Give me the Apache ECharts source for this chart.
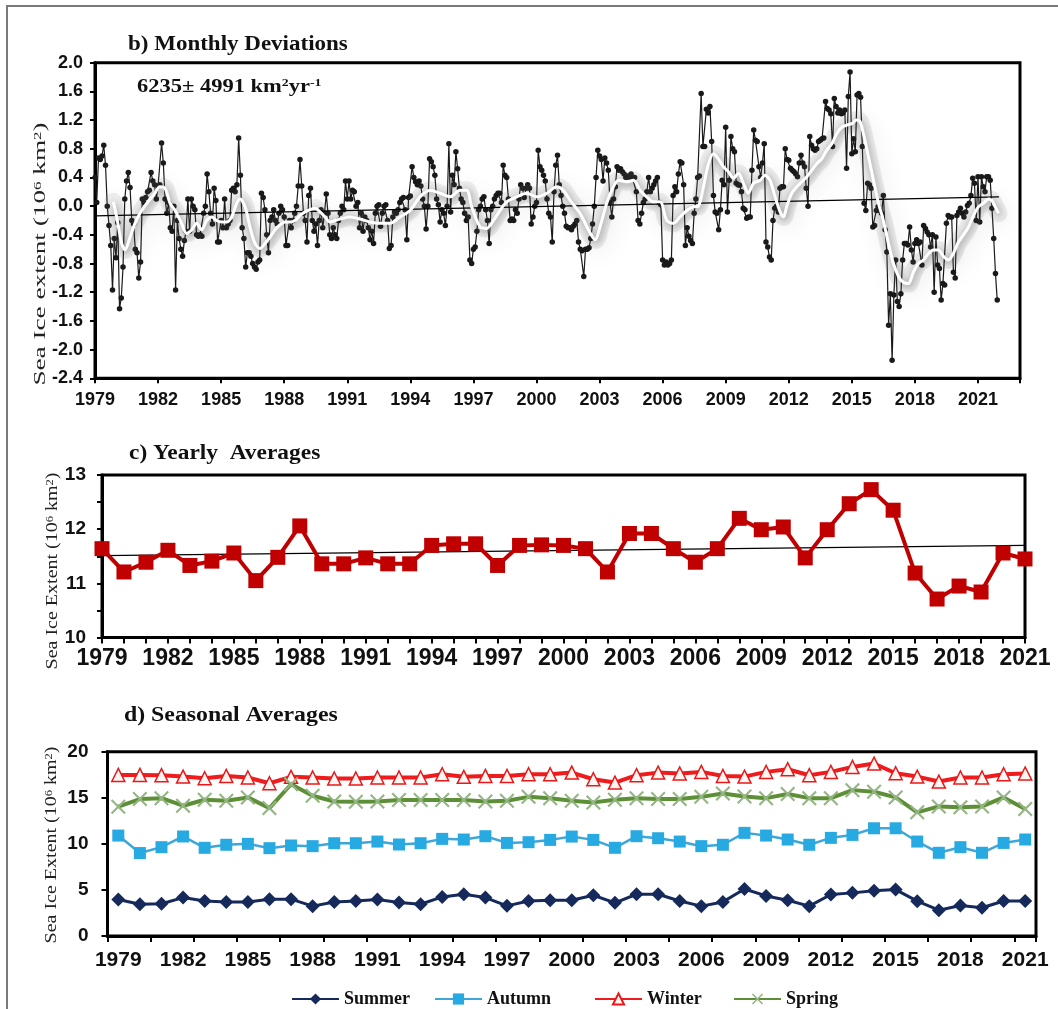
<!DOCTYPE html>
<html><head><meta charset="utf-8">
<script src="https://cdn.jsdelivr.net/npm/echarts@6/dist/echarts.min.js"></script>
<style>html,body{margin:0;padding:0;background:#fff}#c{width:1058px;height:1009px}</style>
</head><body><div id="c"></div>
<script>
// ---------- DATA ----------
// b) Monthly deviations (10^6 km^2), Jan 1979 .. Dec 2021
var monthlyStartYear = 1979;
var monthlyDeviation = [
 0.4,0.05,0.67,0.65,0.7,0.85,0.57,0.0,-0.27,-0.55,-1.17,-0.45,
 -0.72,-0.23,-1.43,-1.28,-0.85,0.1,0.35,0.47,0.26,-0.2,-0.25,-0.6,
 -0.65,-1.0,-0.78,0.1,0.05,0.12,0.2,0.22,0.47,0.35,0.3,0.1,
 0.28,0.3,0.88,0.6,0.1,-0.1,0.05,-0.3,-0.35,0.0,-1.17,-0.2,
 -0.45,-0.6,-0.7,-0.48,-0.35,0.1,-0.35,0.1,0.0,-0.05,-0.4,-0.42,
 -0.4,-0.42,-0.1,0.0,0.45,0.2,-0.1,-0.25,0.25,0.08,-0.5,-0.5,
 -0.2,-0.3,0.1,-0.3,-0.25,-0.2,0.22,0.25,0.2,0.3,0.95,0.43,
 -0.3,-0.45,-0.85,-0.65,-0.65,-0.7,-0.8,-0.85,-0.88,-0.78,-0.75,0.18,
 0.12,-0.05,-0.4,-0.65,-0.2,-0.15,-0.05,-0.2,-0.25,-0.1,0.0,-0.05,
 -0.15,-0.55,-0.55,-0.2,-0.3,-0.2,-0.1,0.0,0.28,0.65,0.28,-0.1,
 -0.2,-0.5,0.15,0.25,-0.2,-0.35,-0.25,-0.55,-0.2,-0.05,-0.3,-0.1,
 0.17,-0.1,-0.4,-0.45,-0.3,-0.4,-0.45,-0.2,-0.1,0.0,-0.05,0.35,
 0.1,0.35,0.1,0.22,0.2,0.0,0.05,-0.3,-0.1,-0.35,-0.15,-0.2,
 -0.3,-0.47,-0.35,-0.52,-0.1,0.0,0.02,-0.28,-0.1,0.0,0.02,-0.2,
 -0.59,-0.55,-0.15,-0.08,-0.1,-0.05,0.05,0.1,0.12,-0.05,-0.47,0.12,
 0.14,0.55,0.4,0.34,0.3,0.35,0.28,0.1,0.0,-0.32,0.0,0.66,
 0.62,0.55,0.43,0.1,0.02,-0.22,-0.05,-0.1,-0.27,0.0,0.87,-0.08,
 0.43,0.3,0.76,0.52,0.25,0.1,0.05,-0.1,-0.2,-0.15,-0.75,-0.8,
 -0.6,-0.57,-0.35,-0.05,0.0,0.1,0.13,-0.05,-0.2,-0.52,-0.05,0.0,
 0.1,0.15,0.18,0.18,0.05,0.57,0.43,0.4,0.1,-0.2,-0.18,-0.2,
 -0.05,-0.1,0.1,0.3,0.25,0.12,0.25,0.3,0.25,-0.25,-0.15,0.0,
 0.05,0.78,0.55,0.5,0.43,0.35,0.1,-0.1,-0.15,-0.5,0.2,0.57,
 0.71,0.3,0.15,0.0,-0.1,-0.28,-0.3,-0.3,-0.33,-0.28,-0.25,-0.2,
 -0.5,-0.6,-0.62,-0.98,-0.6,-0.6,-0.58,-0.45,-0.25,0.0,0.4,0.78,
 0.7,0.65,0.35,0.67,0.6,0.5,0.05,-0.15,0.1,0.27,0.55,0.5,
 0.52,0.48,0.45,0.4,0.42,0.4,0.45,0.38,0.4,0.2,-0.2,-0.25,
 -0.1,0.05,0.1,0.2,0.4,0.2,0.25,0.3,0.35,0.4,0.05,0.02,
 -0.75,-0.82,-0.78,-0.82,-0.8,-0.75,0.15,0.27,0.2,0.45,0.62,0.6,
 0.3,-0.55,-0.3,-0.42,-0.48,-0.52,-0.1,0.1,0.4,0.42,1.57,0.83,
 0.83,1.35,1.3,1.39,0.9,0.15,-0.08,-0.1,-0.33,-0.05,0.36,0.3,
 1.1,-0.08,0.36,0.97,0.8,0.76,0.32,0.3,0.29,0.2,-0.03,-0.05,
 -0.17,-0.15,-0.15,0.5,1.06,0.92,0.9,0.55,0.4,0.6,0.87,-0.5,
 -0.57,-0.71,-0.75,-0.2,-0.03,0.0,-0.08,0.25,0.27,0.27,0.8,0.65,
 0.64,0.53,0.5,0.48,0.45,0.41,0.6,0.71,0.6,0.55,0.25,0.0,
 0.97,0.85,0.8,0.78,0.8,0.9,0.92,0.94,0.95,1.46,1.36,1.34,
 1.29,0.83,1.5,1.39,1.3,1.34,1.29,1.3,1.34,0.53,1.53,1.87,
 0.73,0.94,0.76,1.55,1.57,1.52,0.83,0.04,-0.06,0.32,0.3,0.25,
 -0.29,-0.27,-0.06,-0.01,-0.06,-0.1,0.15,-0.33,-0.64,-1.66,-1.22,-2.15,
 -1.24,-0.75,-1.33,-1.4,-1.22,-0.75,-0.52,-0.52,-0.54,-0.29,-0.61,-0.78,
 -0.52,-0.47,-0.52,-0.5,-0.82,-0.27,-0.31,-0.36,-0.4,-0.57,-0.4,-1.2,
 -0.43,-0.82,-0.87,-1.31,-1.08,-1.1,-0.24,-0.13,-0.15,-0.15,-0.92,-1.0,
 -0.13,-0.08,-0.03,-0.1,-0.15,-0.08,0.01,0.04,0.15,0.39,0.32,-0.2,
 0.41,-0.22,0.41,0.27,0.2,0.41,0.41,0.36,-0.03,-0.45,-0.94,-1.31
];
// white running-mean curve
var smoothYear = [1979.87,1980.03,1980.27,1980.43,1980.67,1980.90,1981.14,1981.46,1981.78,1982.09,1982.33,1982.57,1982.81,1983.12,1983.36,1983.60,1983.84,1984.07,1984.31,1984.55,1984.79,1985.03,1985.26,1985.50,1985.74,1985.90,1986.14,1986.37,1986.61,1986.85,1987.09,1987.33,1987.56,1987.80,1988.04,1988.28,1988.51,1988.75,1988.99,1989.23,1989.47,1989.70,1989.94,1990.18,1990.42,1990.66,1991.13,1991.61,1992.08,1992.56,1993.03,1993.51,1993.99,1994.46,1994.94,1995.41,1995.89,1996.36,1996.68,1996.92,1997.32,1997.63,1997.95,1998.27,1998.58,1999.06,1999.54,2000.01,2000.49,2000.96,2001.28,2001.60,2002.07,2002.47,2002.79,2003.02,2003.34,2003.66,2003.90,2004.29,2004.61,2004.93,2005.24,2005.56,2005.88,2006.20,2006.51,2006.83,2007.15,2007.46,2007.70,2007.94,2008.18,2008.42,2008.65,2008.89,2009.13,2009.37,2009.61,2009.84,2010.08,2010.32,2010.64,2010.87,2011.11,2011.35,2011.59,2011.75,2011.90,2012.14,2012.38,2012.62,2012.86,2013.09,2013.33,2013.57,2013.81,2014.05,2014.28,2014.52,2014.76,2015.00,2015.23,2015.39,2015.55,2015.79,2016.03,2016.27,2016.50,2016.74,2016.98,2017.22,2017.45,2017.69,2017.93,2018.17,2018.41,2018.65,2018.88,2019.12,2019.36,2019.60,2019.83,2020.07,2020.31,2020.55,2020.79,2021.02,2021.26,2021.50,2021.66,2021.82,2021.98];
var smoothValue = [0.06,-0.15,-0.52,-0.61,-0.43,-0.24,-0.10,0.04,0.15,0.27,0.25,0.04,-0.06,-0.24,-0.38,-0.33,-0.24,-0.33,-0.20,-0.15,-0.20,-0.22,-0.22,-0.15,0.04,0.10,-0.01,-0.29,-0.52,-0.59,-0.52,-0.43,-0.33,-0.26,-0.22,-0.22,-0.20,-0.13,-0.08,-0.05,-0.03,-0.08,-0.15,-0.22,-0.20,-0.18,-0.15,-0.18,-0.22,-0.24,-0.24,-0.15,-0.06,0.13,0.22,0.18,0.13,0.22,0.22,-0.01,-0.29,-0.31,-0.20,-0.06,0.06,0.13,0.18,0.13,0.18,0.27,0.22,0.08,-0.10,-0.33,-0.47,-0.29,0.04,0.27,0.36,0.34,0.36,0.22,0.13,0.06,0.06,-0.20,-0.24,-0.15,-0.06,-0.01,0.0,0.27,0.59,0.73,0.66,0.55,0.48,0.39,0.46,0.32,0.18,0.32,0.36,0.43,0.36,0.13,-0.08,-0.15,-0.01,0.18,0.27,0.34,0.41,0.50,0.59,0.66,0.78,0.87,1.01,1.10,1.13,1.15,1.20,1.18,1.01,0.69,0.36,0.04,-0.20,-0.52,-0.80,-0.98,-1.06,-1.08,-0.92,-0.80,-0.75,-0.66,-0.61,-0.61,-0.70,-0.75,-0.66,-0.50,-0.40,-0.29,-0.13,-0.01,0.04,0.10,0.08,-0.01,-0.10];
// linear trend (6235 km2/yr) end points
var trendMonthlyYears = [1979, 2022];
var trendMonthlyValues = [-0.135, 0.13];
var monthlyTickLabels = [1979,1982,1985,1988,1991,1994,1997,2000,2003,2006,2009,2012,2015,2018,2021];

// c) Yearly averages (10^6 km^2)
var years = [];
for (var y = 1979; y <= 2021; y++) years.push(String(y));
var yearlyAvg = [11.64,11.21,11.39,11.61,11.33,11.41,11.56,11.05,11.48,12.06,11.36,11.36,11.47,11.36,11.36,11.70,11.73,11.73,11.33,11.70,11.71,11.70,11.64,11.21,11.92,11.92,11.64,11.39,11.64,12.20,11.99,12.04,11.47,11.99,12.47,12.73,12.35,11.19,10.71,10.95,10.84,11.56,11.45];
var yearlyTrend = [11.51, 11.70];

// d) Seasonal averages (10^6 km^2)
var summer = [3.96,3.45,3.5,4.17,3.8,3.7,3.7,4.0,4.0,3.24,3.7,3.8,3.95,3.63,3.45,4.24,4.53,4.17,3.27,3.8,3.88,3.88,4.42,3.6,4.53,4.53,3.8,3.24,3.7,5.1,4.35,3.88,3.24,4.5,4.68,4.9,5.04,3.78,2.8,3.3,3.06,3.8,3.8];
var autumn = [10.9,9.0,9.64,10.8,9.57,9.9,10.0,9.53,9.82,9.75,10.07,10.07,10.25,9.93,10.07,10.54,10.47,10.83,10.1,10.18,10.43,10.79,10.43,9.57,10.83,10.61,10.25,9.75,9.9,11.19,10.9,10.47,9.9,10.65,10.97,11.69,11.69,10.25,9.03,9.64,9.03,10.1,10.47];
var winter = [17.48,17.48,17.45,17.3,17.12,17.37,17.2,16.58,17.27,17.2,17.09,17.09,17.2,17.2,17.2,17.55,17.27,17.37,17.37,17.55,17.55,17.73,17.01,16.65,17.45,17.73,17.63,17.81,17.37,17.3,17.81,18.1,17.45,17.81,18.35,18.71,17.66,17.3,16.76,17.2,17.2,17.55,17.63];
var spring = [14.03,14.86,14.96,14.14,14.78,14.68,15.04,13.88,16.47,15.22,14.6,14.57,14.6,14.75,14.75,14.75,14.75,14.6,14.68,15.1,14.96,14.68,14.5,14.78,14.96,14.86,14.86,15.1,15.47,15.14,14.96,15.4,14.96,14.96,15.83,15.65,15.04,13.42,14.06,13.96,14.06,15.04,13.78];
var seasonNames = ['Summer','Autumn','Winter','Spring'];

// ---------- BUILD ----------
var monthlyPts = monthlyDeviation.map(function (v, i) { return [monthlyStartYear + i / 12, v]; });
var smoothPts = smoothYear.map(function (t, i) { return [t, smoothValue[i]]; });
var trendPts = trendMonthlyYears.map(function (t, i) { return [t, trendMonthlyValues[i]]; });

var SANS = '"Liberation Sans", Arial, sans-serif';
var SERIF = '"Liberation Serif", "Times New Roman", serif';
var INK = '#111';

function axisBase(extra) {
  var o = {
    axisLine: { show: true, onZero: false, lineStyle: { color: '#000', width: 3 } },
    axisTick: { show: true, inside: false, length: 6, lineStyle: { color: '#000', width: 2 } },
    splitLine: { show: false },
    axisLabel: { color: INK, fontFamily: SANS, fontWeight: 'bold', fontSize: 18 }
  };
  for (var k in extra) {
    if (typeof extra[k] === 'object' && o[k] && !Array.isArray(extra[k])) {
      for (var kk in extra[k]) o[k][kk] = extra[k][kk];
    } else o[k] = extra[k];
  }
  return o;
}

var chart = echarts.init(document.getElementById('c'), null, { renderer: 'canvas' });

var X_SHAPE = 'path://M0,1L1,0L5,4L9,0L10,1L6,5L10,9L9,10L5,6L1,10L0,9L4,5Z';

function yTitle(x, y, scale, fontSize, word) {
  return {
    type: 'text', x: x, y: y, rotation: Math.PI / 2, scaleX: scale, scaleY: 1,
    style: {
      text: '{a|Sea Ice ' + word + ' (10}{s|6}{a| km}{s|2}{a|)}',
      align: 'center', verticalAlign: 'middle', textAlign: 'center', textVerticalAlign: 'middle',
      rich: {
        a: { fontFamily: SERIF, fontSize: fontSize, fill: '#222', verticalAlign: 'bottom' },
        s: { fontFamily: SERIF, fontSize: Math.round(fontSize * 0.62), fill: '#222', verticalAlign: 'top' }
      }
    }
  };
}
function titleText(x, y, scale, txt) {
  return {
    type: 'text', x: x, y: y, scaleX: scale, scaleY: 1,
    style: { text: txt, font: 'bold 20px ' + SERIF, fill: '#111',
      align: 'left', verticalAlign: 'middle', textAlign: 'left', textVerticalAlign: 'middle' }
  };
}

var option = {
  animation: false,
  backgroundColor: '#fff',
  grid: [
    { left: 95, top: 62.7, width: 925, height: 315.6, show: true, borderColor: '#000', borderWidth: 3, backgroundColor: 'transparent', containLabel: false },
    { left: 102, top: 475, width: 923, height: 162.5, show: true, borderColor: '#000', borderWidth: 3, backgroundColor: 'transparent', containLabel: false },
    { left: 107.5, top: 751.7, width: 928.5, height: 184.3, show: true, borderColor: '#000', borderWidth: 3, backgroundColor: 'transparent', containLabel: false }
  ],
  xAxis: [
    axisBase({ gridIndex: 0, type: 'value', min: 1979, max: 2023, interval: 3,
      axisTick: { length: 5 },
      axisLabel: { margin: 13, fontSize: 18, showMaxLabel: true,
        formatter: function (v) { return monthlyTickLabels.indexOf(Math.round(v)) >= 0 && Math.abs(v - Math.round(v)) < 1e-6 ? String(Math.round(v)) : ''; } } }),
    axisBase({ gridIndex: 1, type: 'category', data: years, boundaryGap: false,
      axisTick: { interval: 0, length: 6, alignWithLabel: true },
      axisLabel: { interval: 2, margin: 10, fontSize: 23 } }),
    axisBase({ gridIndex: 2, type: 'category', data: years, boundaryGap: true,
      axisTick: { interval: 1, length: 6 },
      axisLabel: { interval: 2, margin: 14, fontSize: 21 } })
  ],
  yAxis: [
    axisBase({ gridIndex: 0, type: 'value', min: -2.4, max: 2.0, interval: 0.4,
      axisTick: { length: 5 },
      axisLabel: { margin: 12, fontSize: 18,
        formatter: function (v) { return Math.abs(v) < 1e-9 ? '0.0' : v.toFixed(1); } } }),
    axisBase({ gridIndex: 1, type: 'value', min: 10, max: 13, interval: 0.5,
      axisTick: { length: 5 },
      axisLabel: { margin: 16, fontSize: 19,
        formatter: function (v) { return Math.abs(v - Math.round(v)) < 1e-6 ? String(Math.round(v)) : ''; } } }),
    axisBase({ gridIndex: 2, type: 'value', min: 0, max: 20, interval: 5,
      axisTick: { length: 6 },
      axisLabel: { margin: 19, fontSize: 19 } })
  ],
  legend: seasonNames.map(function (n, i) {
    var lefts = [286, 429, 589, 728];
    return { data: [n], left: lefts[i], top: 985, itemWidth: 47, itemHeight: 14, itemGap: 0,
      textStyle: { fontFamily: SERIF, fontWeight: 'bold', fontSize: 18, color: '#111' } };
  }),
  series: [
    { name: 'Monthly', type: 'line', xAxisIndex: 0, yAxisIndex: 0, data: monthlyPts,
      symbol: 'circle', symbolSize: 5.5, showAllSymbol: true,
      lineStyle: { color: '#1a1a1a', width: 1.2 }, itemStyle: { color: '#1a1a1a' }, z: 2 },
    { name: 'SmoothGlow', type: 'line', xAxisIndex: 0, yAxisIndex: 0, data: smoothPts,
      symbol: 'none', smooth: 0.3, silent: true,
      lineStyle: { color: 'rgba(120,120,120,0.13)', width: 18, cap: 'round', join: 'round',
        shadowColor: 'rgba(0,0,0,0.42)', shadowBlur: 24, shadowOffsetX: 3, shadowOffsetY: 6 }, z: 3 },
    { name: 'TrendB', type: 'line', xAxisIndex: 0, yAxisIndex: 0, data: trendPts,
      symbol: 'none', lineStyle: { color: '#000', width: 1.2 }, z: 4 },
    { name: 'Smooth', type: 'line', xAxisIndex: 0, yAxisIndex: 0, data: smoothPts,
      symbol: 'none', smooth: 0.3,
      lineStyle: { color: '#fff', width: 3, shadowColor: 'rgba(0,0,0,0.45)', shadowBlur: 7, shadowOffsetX: 1, shadowOffsetY: 2 }, z: 5 },

    { name: 'TrendC', type: 'line', xAxisIndex: 1, yAxisIndex: 1,
      data: [[years[0], yearlyTrend[0]], [years[years.length - 1], yearlyTrend[1]]],
      symbol: 'none', lineStyle: { color: '#000', width: 1.3 }, z: 2 },
    { name: 'Yearly', type: 'line', xAxisIndex: 1, yAxisIndex: 1, data: yearlyAvg,
      symbol: 'rect', symbolSize: 15, showAllSymbol: true, lineStyle: { color: '#c00000', width: 4 },
      itemStyle: { color: '#c00000' }, z: 3 },

    { name: 'Summer', type: 'line', xAxisIndex: 2, yAxisIndex: 2, data: summer,
      symbol: 'diamond', symbolSize: 14, showAllSymbol: true, lineStyle: { color: '#15295a', width: 3 },
      itemStyle: { color: '#15295a' } },
    { name: 'Autumn', type: 'line', xAxisIndex: 2, yAxisIndex: 2, data: autumn,
      symbol: 'rect', symbolSize: 12, showAllSymbol: true, lineStyle: { color: '#3ea6d8', width: 2.5 },
      itemStyle: { color: '#27aae2' } },
    { name: 'Winter', type: 'line', xAxisIndex: 2, yAxisIndex: 2, data: winter,
      symbol: 'triangle', symbolSize: 13, showAllSymbol: true, lineStyle: { color: '#ee1c1c', width: 4 },
      itemStyle: { color: '#fff6f4', borderColor: '#e81818', borderWidth: 1.5 } },
    { name: 'Spring', type: 'line', xAxisIndex: 2, yAxisIndex: 2, data: spring,
      symbol: X_SHAPE, symbolSize: 15, showAllSymbol: true, lineStyle: { color: '#5d8f36', width: 4 },
      itemStyle: { color: '#94b584' } }
  ],
  graphic: [
    { type: 'polyline', shape: { points: [[7, 1009], [7, 6], [1058, 6]] }, style: { stroke: '#7a7a7a', lineWidth: 2, fill: null } },
    titleText(128, 45, 1.15, 'b) Monthly Deviations'),
    titleText(129, 454, 1.17, 'c) Yearly  Averages'),
    titleText(124, 716, 1.19, 'd) Seasonal Averages'),
    { type: 'text', x: 137, y: 87, scaleX: 1.25, scaleY: 1,
      style: { text: '{a|6235± 4991 km}{s|2}{a|yr}{s|-1}', align: 'left', verticalAlign: 'middle', textAlign: 'left', textVerticalAlign: 'middle',
        rich: { a: { fontFamily: SERIF, fontWeight: 'bold', fontSize: 18, fill: '#111', verticalAlign: 'bottom' },
                s: { fontFamily: SERIF, fontWeight: 'bold', fontSize: 11, fill: '#111', verticalAlign: 'top' } } } },
    yTitle(41, 254, 1.7, 16, 'extent'),
    yTitle(53, 571, 1.25, 16, 'Extent'),
    yTitle(52, 845, 1.25, 16, 'Extent')
  ]
};
chart.setOption(option);
</script></body></html>
